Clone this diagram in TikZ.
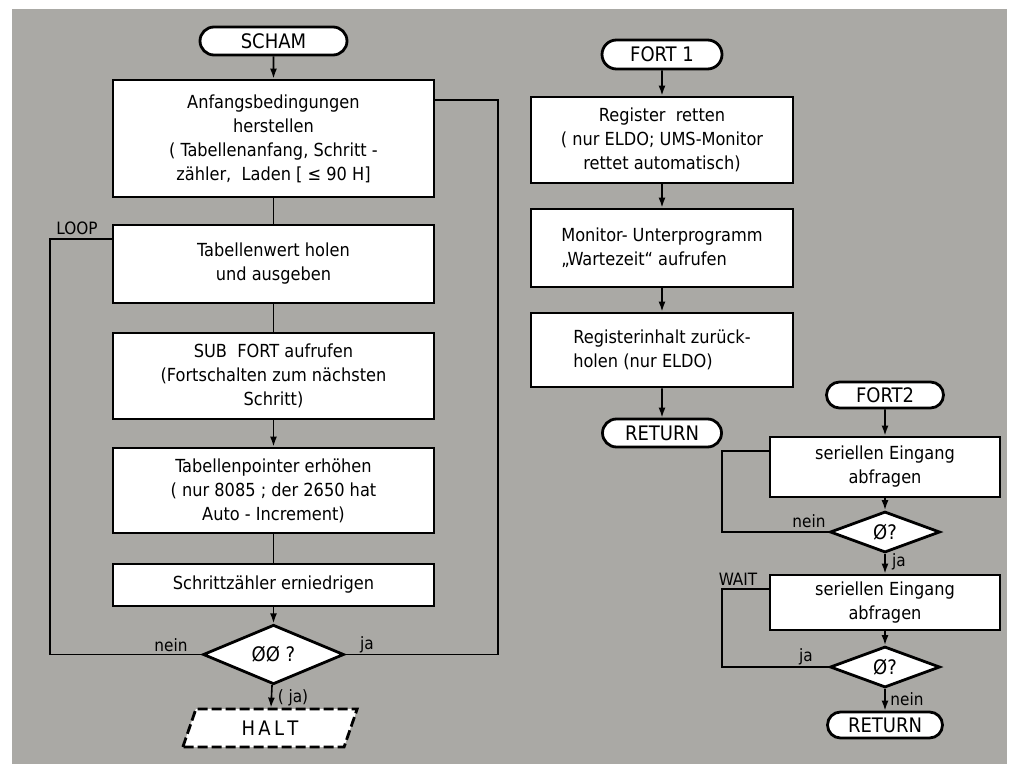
\documentclass[tikz,border=0pt]{standalone}
\usepackage{fontspec}
\setmainfont{DejaVu Sans Condensed}
\usetikzlibrary{shapes.geometric,shapes.misc,arrows.meta}
\definecolor{papier}{RGB}{170,169,165}
\tikzset{
  proc/.style={draw, fill=white, line width=1.4pt, align=center, inner sep=2pt, font=\fontsize{9}{12}\selectfont},
  procl/.style={proc, align=left},
  term/.style={draw, fill=white, rounded rectangle, line width=1.4pt, inner sep=0pt, font=\fontsize{10}{12}\selectfont},
  dec/.style={draw, fill=white, diamond, line width=1.4pt, inner sep=0pt, font=\fontsize{10}{12}\selectfont},
  lbl/.style={font=\fontsize{8.5}{10}\selectfont, inner sep=0pt},
  line/.style={line width=0.8pt},
  arr/.style={line width=0.8pt, -{Latex[length=5pt,width=3.5pt]}}
}
\begin{document}
\begin{tikzpicture}[x=0.5pt,y=-0.5pt]
                \fill[white] (0,0) rectangle (1010,764);
                \fill[papier] (12,9) rectangle (1007,764); % Hintergrund
                % SCHAM
                \node[term, minimum width=73.5pt, minimum height=14pt] (scham) at (273.5,41) {SCHAM};
                \node[proc, minimum width=160.5pt, minimum height=58.5pt] (anfang) at (273.5,138.5)
                  {Anfangsbedingungen\\herstellen\\( Tabellenanfang, Schritt -\\zähler,\ \ Laden [ ≤ 90 H]};
                \node[proc, minimum width=160.5pt, minimum height=39pt] (holen) at (273.5,264)
                  {Tabellenwert holen\\und ausgeben};
                \node[proc, minimum width=160.5pt, minimum height=43pt] (sub) at (273.5,376)
                  {SUB\ \ FORT aufrufen\\(Fortschalten zum nächsten\\Schritt)};
                \node[proc, minimum width=160.5pt, minimum height=42.5pt] (pointer) at (273.5,490.5)
                  {Tabellenpointer erhöhen\\( nur 8085 ; der 2650 hat\\Auto - Increment)};
                \node[proc, minimum width=160.5pt, minimum height=21pt] (zaehler) at (273.5,585)
                  {Schrittzähler erniedrigen};
                \node[dec, minimum width=70.5pt, minimum height=28.5pt] (null) at (273.5,654.5) {ØØ ?};
                \node[draw, fill=white, trapezium, trapezium left angle=71, trapezium right angle=109,
                  line width=1.4pt, dash pattern=on 5pt off 2pt, minimum width=87pt, minimum height=19pt,
                  inner sep=0pt, font=\fontsize{10}{12}\selectfont] (halt) at (270,728) {H\,A\,L\,T};
                \draw[arr] (scham) -- (anfang);
                \draw[line] (anfang) -- (holen);
                \draw[line] (holen) -- (sub);
                \draw[arr] (sub) -- (pointer);
                \draw[line] (pointer) -- (zaehler);
                \draw[arr] (zaehler) -- (null);
                \draw[arr] (null) -- (halt);
                \coordinate (loopL) at (50,239);
                \coordinate (loopR) at (498,100);
                \draw[line] (null.west) -| (loopL) -- (loopL -| holen.west);
                \draw[line] (null.east) -| (loopR) -- (loopR -| anfang.east);
                \node[lbl] at (77,228) {LOOP};
                \node[lbl] at (171,645) {nein};
                \node[lbl] at (367,645) {ja};
                \node[lbl] at (293,698) {( ja)};
                % FORT 1
                \node[term, minimum width=60pt, minimum height=14.5pt] (fort1) at (662,54.5) {FORT 1};
                \node[proc, minimum width=131pt, minimum height=43pt] (retten) at (662,140)
                  {Register\ \ retten\\( nur ELDO; UMS-Monitor\\rettet automatisch)};
                \node[procl, minimum width=131pt, minimum height=39pt] (warte) at (662,248)
                  {Monitor- Unterprogramm\\„Wartezeit“ aufrufen};
                \node[procl, minimum width=131pt, minimum height=37pt] (zurueck) at (662,350)
                  {Registerinhalt zurück-\\holen (nur ELDO)};
                \node[term, minimum width=59.5pt, minimum height=14pt] (ret1) at (662,433) {RETURN};
                \draw[arr] (fort1) -- (retten);
                \draw[arr] (retten) -- (warte);
                \draw[arr] (warte) -- (zurueck);
                \draw[arr] (zurueck) -- (ret1);
                % FORT 2
                \node[term, minimum width=58.5pt, minimum height=13pt] (fort2) at (885,395) {FORT2};
                \node[proc, minimum width=115pt, minimum height=30pt] (eing1) at (885,467)
                  {seriellen Eingang\\abfragen};
                \node[dec, minimum width=55pt, minimum height=20.5pt] (null1) at (885,532) {Ø?};
                \node[proc, minimum width=115pt, minimum height=27.5pt] (eing2) at (885,602.5)
                  {seriellen Eingang\\abfragen};
                \node[dec, minimum width=55pt, minimum height=20.5pt] (null2) at (885,667) {Ø?};
                \node[term, minimum width=57.5pt, minimum height=13pt] (ret2) at (885,725) {RETURN};
                \draw[arr] (fort2) -- (eing1);
                \draw[arr] (eing1) -- (null1);
                \draw[arr] (null1) -- (eing2);
                \draw[arr] (eing2) -- (null2);
                \draw[arr] (null2) -- (ret2);
                \coordinate (wait1) at (722,451);
                \coordinate (wait2) at (722,589);
                \draw[line] (null1.west) -| (wait1) -- (wait1 -| eing1.west);
                \draw[line] (null2.west) -| (wait2) -- (wait2 -| eing2.west);
                \node[lbl] at (809,521) {nein};
                \node[lbl] at (899,562) {ja};
                \node[lbl] at (738,579) {WAIT};
                \node[lbl] at (806,657) {ja};
                \node[lbl] at (907,699) {nein};
\end{tikzpicture}
\end{document}
